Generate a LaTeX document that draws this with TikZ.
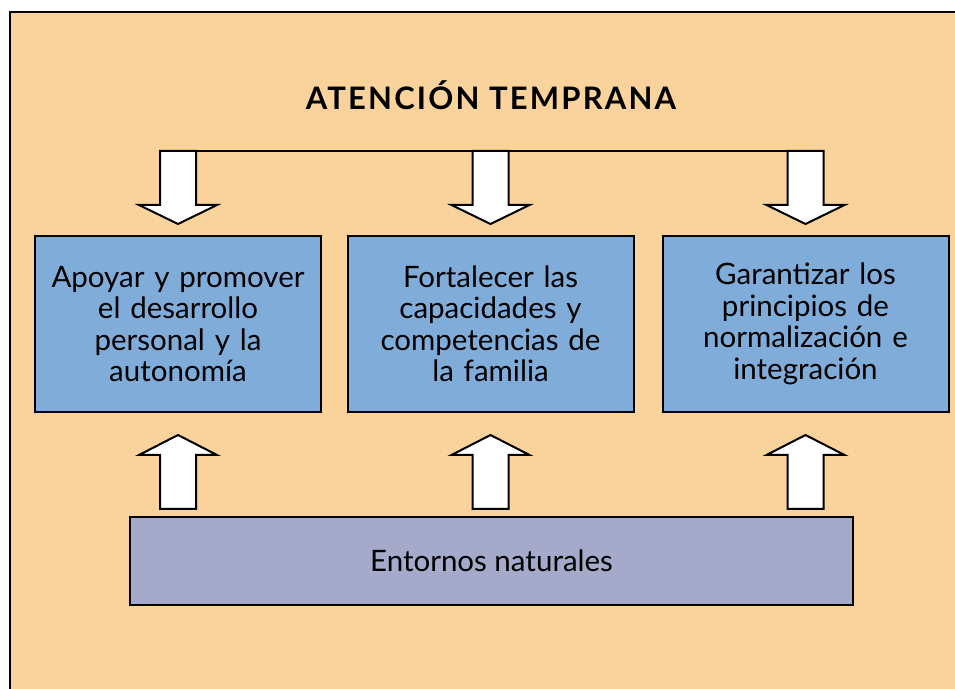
\documentclass[tikz,border=0pt]{standalone}
\usepackage{fontspec}
\setmainfont{Lato}
\newfontfamily\titlefont[LetterSpace=7]{Lato}
\definecolor{peach}{HTML}{F9D39B}
\definecolor{boxblue}{HTML}{80ACDA}
\definecolor{boxlav}{HTML}{A5AACB}
\tikzset{
  goalbox/.style={draw=black,line width=2pt,fill=boxblue,minimum width=286pt,minimum height=176pt,inner sep=0pt,text width=280pt,align=center,font=\fontsize{29.5}{31.5}\selectfont},
  basebox/.style={draw=black,line width=2pt,fill=boxlav,minimum width=723pt,minimum height=88pt,inner sep=0pt,align=center,font=\fontsize{29.5}{31.5}\selectfont},
  blockarr/.style={draw=black,line width=2pt,fill=white,line join=miter},
  downarrow/.pic={\draw[blockarr] (-18,73) -- (18,73) -- (18,19) -- (39,19) -- (0,0) -- (-39,19) -- (-18,19) -- cycle;},
  uparrow/.pic={\draw[blockarr] (-18,-74) -- (18,-74) -- (18,-20) -- (39,-20) -- (0,0) -- (-39,-20) -- (-18,-20) -- cycle;}
}
\begin{document}
\begin{tikzpicture}[x=1pt,y=1pt]
\useasboundingbox (0,0) rectangle (955,688);
\fill[white] (0,0) rectangle (955,688);
\fill[peach] (11,-10) rectangle (965,675);
\draw[line width=2pt] (10,-10) -- (10,676) -- (965,676);
\node[font=\titlefont\fontsize{31}{34}\selectfont\bfseries] (title) at (491,593) {ATENCIÓN TEMPRANA};
\node[goalbox] (b1) at (178,364) {Apoyar y promover\\el desarrollo\\personal y la\\autonomía};
\node[goalbox] (b2) at (490.5,364) {Fortalecer las\\capacidades y\\competencias de\\la familia};
\node[goalbox] (b3) at (805.5,364) {Garantizar los\\principios de\\normalización e\\integración};
\node[basebox] (base) at (491.5,127) {Entornos naturales};
\draw[line width=1.5pt] ([shift={(0,84)}]b1.north) -- ([shift={(0,84)}]b3.north);
\foreach \b in {b1,b2,b3}{
  \path ([shift={(0,11)}]\b.north) pic {downarrow};
  \path ([shift={(0,-22)}]\b.south) pic {uparrow};
}
\end{tikzpicture}
\end{document}
